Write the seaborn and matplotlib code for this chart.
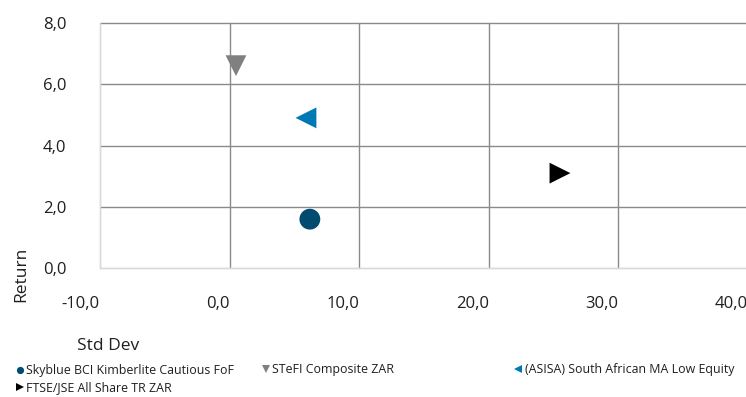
import matplotlib
matplotlib.use("Agg")
import matplotlib.pyplot as plt
from matplotlib.lines import Line2D
import seaborn as sns
import pandas as pd

# Risk / return of the fund against its benchmarks
series = [
    "Skyblue BCI Kimberlite Cautious FoF",
    "STeFI Composite ZAR",
    "(ASISA) South African MA Low Equity",
    "FTSE/JSE All Share TR ZAR",
]
std_dev = [6.2, 0.5, 5.9, 25.5]
returns = [1.6, 6.6, 4.9, 3.1]

x_ticks = [-10, 0, 10, 20, 30, 40]
y_ticks = [0, 2, 4, 6, 8]

colors = {
    series[0]: "#004B6F",
    series[1]: "#808080",
    series[2]: "#0078B4",
    series[3]: "#000000",
}
markers = {
    series[0]: "o",
    series[1]: "v",
    series[2]: "<",
    series[3]: ">",
}

df = pd.DataFrame({"Series": series, "Std Dev": std_dev, "Return": returns})

sns.set_style("white")
plt.rcParams["font.family"] = ["Open Sans", "DejaVu Sans"]
TEXT = "#1f1f1f"
GRID = "#8a8a8a"
LIGHT = "#d9d9d9"

W, H = 746, 397
fig = plt.figure(figsize=(W / 100, H / 100), dpi=100)
ax = fig.add_axes([99.9 / W, 1 - 268.3 / H, 648 / W, 245.6 / H])

sns.scatterplot(
    data=df, x="Std Dev", y="Return", hue="Series", style="Series",
    hue_order=series, style_order=series, palette=colors, markers=markers,
    s=225, linewidth=0, legend=False, ax=ax, zorder=3,
)

ax.set_xlim(-10, 40)
ax.set_ylim(0, 8)
ax.set_xticks(x_ticks)
ax.set_yticks(y_ticks)
ax.set_xticklabels([f"{v:.1f}".replace(".", ",") for v in x_ticks], ha="right")
ax.set_yticklabels([f"{v:.1f}".replace(".", ",") for v in y_ticks])
ax.set_xlabel("")
ax.set_ylabel("")

ax.tick_params(axis="both", which="major", length=10.6, width=1.0, color=LIGHT,
               labelsize=12, labelcolor=TEXT, direction="out")
ax.tick_params(axis="x", pad=9)
ax.tick_params(axis="y", pad=13.5)

ax.set_axisbelow(True)
ax.grid(True, color=GRID, linewidth=1.0)
for spine in ["top", "right"]:
    ax.spines[spine].set_visible(False)
for spine in ["left", "bottom"]:
    ax.spines[spine].set_color(LIGHT)
    ax.spines[spine].set_linewidth(1.0)
for gl in ax.get_xgridlines() + ax.get_ygridlines():
    gl.set_clip_on(False)
ax.get_xgridlines()[0].set_color(LIGHT)
ax.get_ygridlines()[0].set_color(LIGHT)

# Axis titles sit below / beside the plot, Excel-style
fig.text(21 / W, 1 - 274 / H, "Return", rotation=90, ha="center", va="center",
         fontsize=12.5, color=TEXT)
fig.text(77 / W, 1 - 346 / H, "Std Dev", ha="left", va="center",
         fontsize=12.5, color=TEXT)

def handle(name):
    return Line2D([], [], linestyle="none", marker=markers[name],
                  color=colors[name], markersize=5.2, markeredgewidth=0)

leg_kw = dict(frameon=False, fontsize=8.9, handlelength=0.5, handletextpad=0.3,
              borderpad=0, borderaxespad=0, labelcolor=TEXT)

leg_a = fig.legend([handle(series[0]), handle(series[3])], [series[0], series[3]],
                   loc="center left", bbox_to_anchor=(16.5 / W, 1 - 379 / H),
                   labelspacing=0.3, **leg_kw)
leg_b = fig.legend([handle(series[1])], [series[1]],
                   loc="center left", bbox_to_anchor=(262.5 / W, 1 - 370 / H), **leg_kw)
leg_c = fig.legend([handle(series[2])], [series[2]],
                   loc="center left", bbox_to_anchor=(515 / W, 1 - 370 / H), **leg_kw)

fig.savefig("out.png", dpi=100)
